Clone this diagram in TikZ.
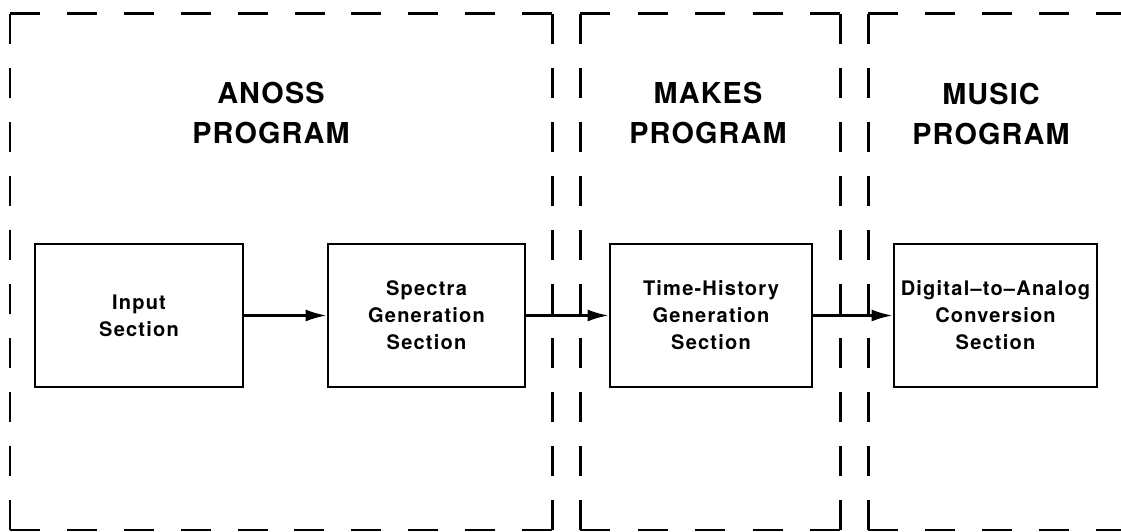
\documentclass[tikz,border=0pt]{standalone}
\usepackage{fontspec}
\setmainfont{TeX Gyre Heros}
\newfontfamily\boxfont[LetterSpace=6]{TeX Gyre Heros}
\newfontfamily\headfont[LetterSpace=4]{TeX Gyre Heros}
\usetikzlibrary{arrows.meta}

\tikzset{
  progframe/.style={draw=black, line width=0.85pt, dash pattern=on 0.30cm off #1},
  progframe/.default=0.27cm,
  secbox/.style={draw=black, line width=0.8pt, minimum width=#1, minimum height=1.43cm,
    inner sep=0pt, align=center, font=\boxfont\bfseries\fontsize{5.7}{7.7}\selectfont},
  proghead/.style={align=center, inner sep=0pt, font=\headfont\bfseries\fontsize{8.2}{11.6}\selectfont},
  flow/.style={draw=black, line width=0.7pt, -{Latex[length=2.1mm, width=1.2mm]}}
}

\begin{document}
\begin{tikzpicture}
            \useasboundingbox (0.00,0.00) rectangle (11.21,5.32);
            % program frames, gaps fitted so every side ends in a dash
            \draw[progframe=0.269cm] (0.10,5.18) -- (5.52,5.18);
            \draw[progframe=0.240cm] (5.52,5.18) -- (5.52,0.02);
            \draw[progframe=0.269cm] (5.52,0.02) -- (0.10,0.02);
            \draw[progframe=0.240cm] (0.10,0.02) -- (0.10,5.18);
            \draw[progframe=0.275cm] (5.80,5.18) -- (8.40,5.18);
            \draw[progframe=0.240cm] (8.40,5.18) -- (8.40,0.02);
            \draw[progframe=0.275cm] (8.40,0.02) -- (5.80,0.02);
            \draw[progframe=0.240cm] (5.80,0.02) -- (5.80,5.18);
            \draw[progframe] (8.68,5.18) -- (11.52,5.18);
            \draw[progframe] (8.68,0.02) -- (11.52,0.02);
            \draw[progframe=0.240cm] (8.68,0.02) -- (8.68,5.18);
            \node[proghead] (anoss) at (2.71,4.19) {ANOSS\\PROGRAM};
            \node[proghead] (makes) at (7.08,4.19) {MAKES\\PROGRAM};
            \node[proghead] (music) at (9.91,4.18) {MUSIC\\PROGRAM};
            % sections
            \node[secbox=2.08cm] (input) at (1.39,2.165) {Input\\Section};
            \node[secbox=1.97cm] (spectra) at (4.265,2.165) {Spectra\\Generation\\Section};
            \node[secbox=2.02cm] (timehist) at (7.11,2.165) {Time-History\\Generation\\Section};
            \node[secbox=2.03cm] (dac) at (9.955,2.165) {Digital\textendash to\textendash Analog\\Conversion\\Section};
            \draw[flow] (input) -- (spectra);
            \draw[flow] (spectra) -- (timehist);
            \draw[flow] (timehist) -- (dac);
        \end{tikzpicture}
\end{document}
